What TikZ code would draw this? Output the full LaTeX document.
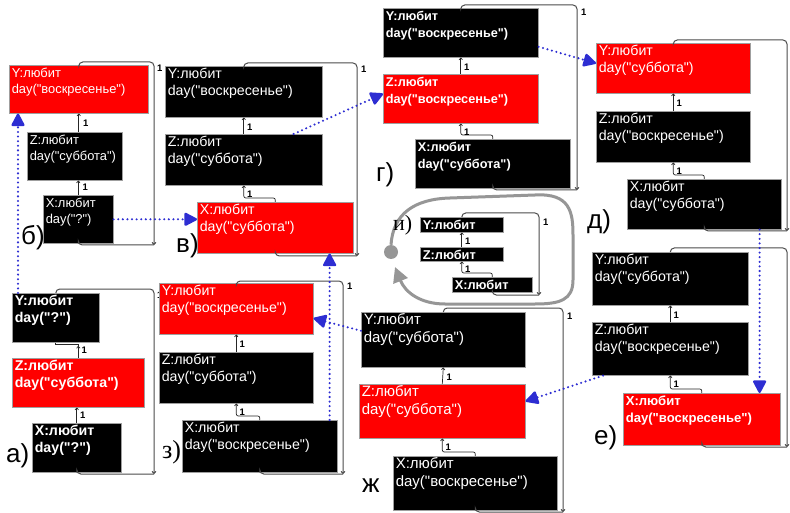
\documentclass[tikz,border=0pt]{standalone}
\usepackage{fontspec}
\setmainfont{Liberation Sans}[Ligatures=TeXOff]
\newfontfamily\serifl{Liberation Serif}
\usetikzlibrary{arrows.meta,calc}

\definecolor{transblue}{RGB}{45,45,210}
\definecolor{loopgray}{RGB}{150,150,150}

% text inside an object box: two lines, set at the top left
\newcommand\objtxt[4]{\parbox[c][#2pt][t]{#1pt}{\raggedright\rule{0pt}{12pt}#3\\#4}}
\newcommand\objone[3]{\parbox[c][#2pt][t]{#1pt}{\raggedright\rule{0pt}{12pt}#3}}

\tikzset{
  obj/.style={draw=gray!75, line width=0.6pt, anchor=north west, inner xsep=2.5pt,
    inner ysep=0pt, text=white, font=\fontsize{14.2}{17.5}\selectfont},
  objb/.style={obj, font=\bfseries\fontsize{12.7}{17.5}\selectfont},
  objbl/.style={obj, font=\bfseries\fontsize{14.2}{17.5}\selectfont},
  objbe/.style={obj, font=\bfseries\fontsize{13.1}{17.5}\selectfont},
  objs/.style={obj, font=\fontsize{12.9}{16.5}\selectfont},
  objw/.style={obj, font=\fontsize{15}{18.5}\selectfont},
  link/.style={draw=black!85, line width=0.7pt},
  linkarr/.style={link, -{To[length=2.5pt,width=4pt]}},
  loopline/.style={draw=black!70, line width=1pt, rounded corners=4pt},
  looparr/.style={loopline, -{To[length=3pt,width=4.5pt]}},
  mult/.style={font=\bfseries\fontsize{9.5}{10}\selectfont, inner sep=0pt, anchor=west},
  tag/.style={font=\fontsize{26}{26}\selectfont, inner sep=0pt, anchor=base west},
  tagserif/.style={font=\serifl\fontsize{26}{26}\selectfont, inner sep=0pt, anchor=base west},
  trans/.style={draw=transblue, line width=2.3pt, line cap=round,
    dash pattern=on 0pt off 4.6pt, -{Triangle[length=14pt,width=14pt,round=false]}},
  grayloop/.style={draw=loopgray, line width=3pt, -{Triangle[length=15pt,width=15pt]}},
}

\begin{document}
\begin{tikzpicture}[x=1pt,y=-1pt]
\fill[white] (0,0) rectangle (790,513);
\useasboundingbox (0,0) rectangle (790,513);

% ---------- panel б ----------
\node[objs, fill=red]   (bY) at (9,65)   {\objtxt{134}{48}{Y:любит}{day("воскресенье")}};
\node[objs, fill=black] (bZ) at (27,132) {\objtxt{90}{48}{Z:любит}{day("суббота")}};
\node[objs, fill=black] (bX) at (43,195) {\objtxt{65}{48}{X:любит}{day("?")}};
\draw[linkarr] (bY.south |- bZ.north) -- (bY.south);
\draw[linkarr] (bX.north) -- (bX.north |- bZ.south);
\coordinate (bC) at (154,245);
\draw[looparr] (bY.north) |- (154,62) -- (bC);
\draw[loopline] (bX.south) |- (bC);
\node[mult] (bm1) at ($(bY.south)+(4,10)$) {1};
\node[mult] (bm2) at ($(bZ.south -| bX.north)+(4,7)$) {1};
\node[mult] (bm3) at (157,68) {1};
\node[tag] (bl) at (21,244) {б)};

% ---------- panel в ----------
\node[obj, fill=black] (vY) at (165,66)  {\objtxt{152}{51}{Y:любит}{day("воскресенье")}};
\node[obj, fill=black] (vZ) at (165,134) {\objtxt{152}{51}{Z:любит}{day("суббота")}};
\node[obj, fill=red]   (vX) at (197,202) {\objtxt{151}{51}{X:любит}{day("суббота")}};
\draw[linkarr] (vZ.north) -- (vY.south);
\draw[linkarr, rounded corners=2pt] (vX.north) -- ++(0,-4) -| (vZ.south);
\coordinate (vC) at (357,256);
\draw[looparr] (vY.north) |- (357,63) -- (vC);
\draw[loopline] (vX.south) |- (vC);
\node[mult] (vm1) at ($(vY.south)+(3,10)$) {1};
\node[mult] (vm2) at ($(vZ.south)+(3,9)$) {1};
\node[mult] (vm3) at (361,69) {1};
\node[tag] (vl) at (176,253) {в)};

% ---------- panel г ----------
\node[objb, fill=black] (gY) at (383,8)   {\objtxt{150}{49}{Y:любит}{day("воскресенье")}};
\node[objb, fill=red]   (gZ) at (383,74)  {\objtxt{150}{49}{Z:любит}{day("воскресенье")}};
\node[objb, fill=black] (gX) at (415,139) {\objtxt{150}{49}{X:любит}{day("суббота")}};
\draw[linkarr] (gZ.north) -- (gY.south);
\draw[linkarr, rounded corners=2pt] (gX.north) -- ++(0,-4) -| (gZ.south);
\coordinate (gC) at (577,190);
\draw[looparr] (gY.north) |- (577,5) -- (gC);
\draw[loopline] (gX.south) |- (gC);
\node[mult] (gm1) at ($(gY.south)+(3,10)$) {1};
\node[mult] (gm2) at ($(gZ.south)+(3,9)$) {1};
\node[mult] (gm3) at (581,12) {1};
\node[tag] (gl) at (376,182) {г)};

% ---------- panel д ----------
\node[obj, fill=red]   (dY) at (596,43)  {\objtxt{149}{50}{Y:любит}{day("суббота")}};
\node[obj, fill=black] (dZ) at (596,111) {\objtxt{149}{51}{Z:любит}{day("воскресенье")}};
\node[obj, fill=black] (dX) at (627,179) {\objtxt{149}{50}{X:любит}{day("суббота")}};
\draw[linkarr] (dZ.north) -- (dY.south);
\draw[linkarr, rounded corners=2pt] (dX.north) -- ++(0,-4) -| (dZ.south);
\coordinate (dC) at (787,231);
\draw[looparr] (dY.north) |- (787,40) -- (dC);
\draw[loopline] (dX.south) |- (dC);
\node[mult] (dm1) at ($(dY.south)+(3,10)$) {1};
\node[mult] (dm2) at ($(dZ.south)+(3,9)$) {1};
\node[tag] (dl) at (587,229) {д)};

% ---------- panel а ----------
\node[objbl, fill=black] (aY) at (12,293) {\objtxt{82}{49}{Y:любит}{day("?")}};
\node[objbl, fill=red]   (aZ) at (12,358) {\objtxt{127}{49}{Z:любит}{day("суббота")}};
\node[objbl, fill=black] (aX) at (32,423) {\objtxt{84}{49}{X:любит}{day("?")}};
\draw[link] (aY.south) -- ++(0,2) -| (aZ.north);
\draw[linkarr] (aZ.north) -- ++(0,-12);
\draw[linkarr] (aX.north) -- (aX.north |- aZ.south);
\coordinate (aC) at (154,474);
\draw[looparr] (aY.north) |- (154,289) -- (aC);
\draw[loopline] (aX.south) |- (aC);
\node[mult] (am1) at ($(aZ.north)+(3,-8)$) {1};
\node[mult] (am2) at ($(aX.north |- aZ.south)+(3,8)$) {1};
\node[mult] (am3) at (157,295) {1};
\node[tag] (al) at (6,462) {а)};

% ---------- panel з ----------
\node[obj, fill=red]   (zY) at (159,283) {\objtxt{149}{51}{Y:любит}{day("воскресенье")}};
\node[obj, fill=black] (zZ) at (159,352) {\objtxt{149}{51}{Z:любит}{day("суббота")}};
\node[obj, fill=black] (zX) at (182,420) {\objtxt{150}{52}{X:любит}{day("воскресенье")}};
\draw[linkarr] (zZ.north) -- (zY.south);
\draw[linkarr, rounded corners=2pt] (zX.north) -- ++(0,-4) -| (zZ.south);
\coordinate (zC) at (343,474);
\draw[looparr] (zY.north) |- (343,281) -- (zC);
\draw[loopline] (zX.south) |- (zC);
\node[mult] (zm1) at ($(zY.south)+(3,10)$) {1};
\node[mult] (zm2) at ($(zZ.south)+(3,9)$) {1};
\node[mult] (zm3) at (347,286) {1};
\node[tagserif] (zl) at (162,458) {з)};

% ---------- panel ж ----------
\node[objw, fill=black] (hY) at (361,312) {\objtxt{159}{55}{Y:любит}{day("суббота")}};
\node[objw, fill=red]   (hZ) at (359,384) {\objtxt{161}{54}{Z:любит}{day("суббота")}};
\node[objw, fill=black] (hX) at (393,456) {\objtxt{159}{54}{X:любит}{day("воскресенье")}};
\draw[linkarr] (hZ.north) -- (hY.south);
\draw[linkarr, rounded corners=2pt] (hX.north) -- ++(0,-4) -| (hZ.south);
\coordinate (hC) at (563,512);
\draw[looparr] (hY.north) |- (563,308) -- (hC);
\draw[loopline] (hX.south) |- (hC);
\node[mult] (hm1) at ($(hY.south)+(3,10)$) {1};
\node[mult] (hm2) at ($(hZ.south)+(3,9)$) {1};
\node[mult] (hm3) at (567,316) {1};
\node[tag] (hl) at (362,492) {ж};

% ---------- panel е ----------
\node[obj, fill=black] (eY) at (592,252) {\objtxt{151}{53}{Y:любит}{day("суббота")}};
\node[obj, fill=black] (eZ) at (592,322) {\objtxt{151}{53}{Z:любит}{day("воскресенье")}};
\node[objbe, fill=red] (eX) at (623,393) {\objtxt{152}{52}{X:любит}{day("воскресенье")}};
\draw[linkarr] (eZ.north) -- (eY.south);
\draw[linkarr, rounded corners=2pt] (eX.north) -- ++(0,-4) -| (eZ.south);
\coordinate (eC) at (787,447);
\draw[looparr] (eY.north) |- (787,248) -- (eC);
\draw[loopline] (eX.south) |- (eC);
\node[mult] (em1) at ($(eY.south)+(3,10)$) {1};
\node[mult] (em2) at ($(eZ.south)+(3,9)$) {1};
\node[tag] (el) at (594,444) {е)};

% ---------- panel и ----------
\tikzset{obji/.style={objb, font=\bfseries\fontsize{12.8}{14}\selectfont}}
\node[obji, fill=black] (iY) at (420,217) {\objone{78}{15}{Y:любит}};
\node[obji, fill=black] (iZ) at (420,247) {\objone{78}{14}{Z:любит}};
\node[obji, fill=black] (iX) at (452,277) {\objone{75}{15}{X:любит}};
\draw[linkarr] (iZ.north) -- (iY.south);
\draw[linkarr, rounded corners=2pt] (iX.north) -- ++(0,-4) -| (iZ.south);
\coordinate (iC) at (539,295);
\draw[looparr] (iY.north) |- (539,213) -- (iC);
\draw[loopline] (iX.south) |- (iC);
\node[mult] (im1) at ($(iY.south)+(3,9)$) {1};
\node[mult] (im2) at ($(iZ.south)+(3,8)$) {1};
\node[mult] (im3) at (543,222) {1};

% cycle mark round panel и
\node[circle, fill=loopgray, minimum size=14pt, inner sep=0pt] (idot) at (391,252) {};
\coordinate (iend) at (395,267);
\draw[grayloop] (idot.north) .. controls (393,214) and (414,199) .. (450,198)
  -- (535,195) .. controls (570,193) and (573,212) .. (573,235)
  -- (573,280) .. controls (573,300) and (560,304) .. (535,304)
  -- (445,304) .. controls (420,304) and (405,292) .. (iend);
\node[tagserif, font=\serifl\fontsize{22}{22}\selectfont] (il) at (393,231) {и)};

% ---------- transitions between states ----------
\draw[trans] ([xshift=6pt]aY.north west) -- ([xshift=9pt]bY.south west);
\draw[trans] (bX.east) -- (bX.east -| vX.west);
\draw[trans] ([xshift=-29pt]vZ.north east) -- ([yshift=5pt]gZ.west);
\draw[trans] ([yshift=-14pt]gY.east) -- ([yshift=5pt]dY.west);
\draw[trans] ([xshift=-22pt]dX.south east) -- ([xshift=-21pt]eX.north east);
\draw[trans] ([xshift=11pt]eZ.south west) -- ([yshift=10pt]hZ.east);
\draw[trans] ([yshift=9pt]hY.west) -- ([yshift=-9.5pt]zY.east);
\draw[trans] ([xshift=-8pt]zX.north east) -- ([xshift=-24pt]vX.south east);
\end{tikzpicture}
\end{document}
